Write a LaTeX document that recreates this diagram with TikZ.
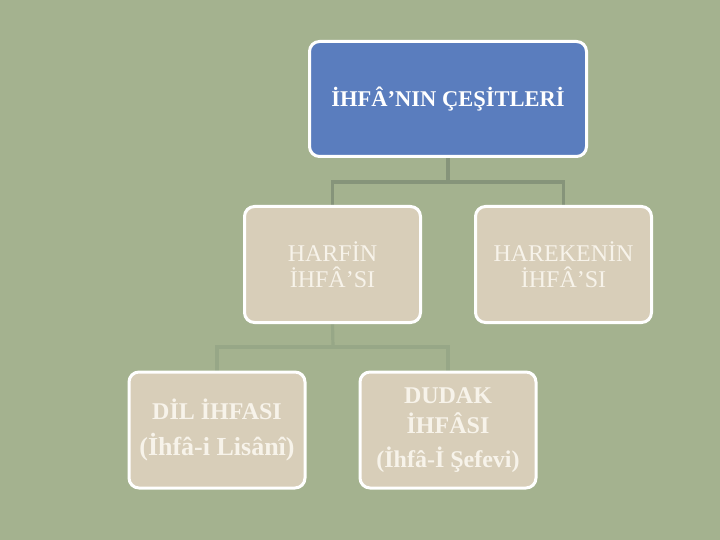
\documentclass[tikz,border=0pt]{standalone}
\usepackage{fontspec}
\setmainfont{Liberation Serif}
\definecolor{bgc}{HTML}{A4B28F}
\definecolor{bluec}{HTML}{5A7DBE}
\definecolor{beigec}{HTML}{D8CEB9}
\definecolor{linea}{HTML}{86947A}
\definecolor{lineb}{HTML}{97A787}
\definecolor{txtc}{HTML}{F7F3EA}
\pgfdeclarelayer{back}
\pgfdeclarelayer{wires}
\pgfsetlayers{back,wires,main}
\tikzset{
  topbox/.style={draw=white, line width=3pt, rounded corners=10pt, fill=bluec, minimum width=277pt, minimum height=115pt, align=center, text=white, font=\bfseries\fontsize{22.5}{26}\selectfont},
  childbox/.style={draw=white, line width=3pt, rounded corners=10pt, fill=beigec, minimum width=176pt, minimum height=116pt, align=center, text=txtc, font=\fontsize{24}{26}\selectfont},
  leafbox/.style={childbox, font=\bfseries\fontsize{24}{36}\selectfont},
  conna/.style={draw=linea, line width=3.2pt},
  connb/.style={draw=lineb, line width=3.2pt}
}
\begin{document}
\begin{tikzpicture}[x=1pt,y=-1pt]
\begin{pgfonlayer}{back}
\fill[bgc] (0,0) rectangle (720,540);
\end{pgfonlayer}
\useasboundingbox (0,0) rectangle (720,540);
\coordinate (j1) at (449,182);
\coordinate (j2) at (333,347);
\node[topbox] (top) at (448,99) {İHFÂ’NIN ÇEŞİTLERİ};
\node[childbox] (harf) at (332.5,264.5) {HARFİN\\İHFÂ’SI};
\node[childbox] (hare) at (563.5,264.5) {HAREKENİN\\İHFÂ’SI};
\node[leafbox] (dil) at (217,430) {DİL İHFASI\\{\fontsize{26}{36}\selectfont(İhfâ-i Lisânî)}};
\node[leafbox, font=\bfseries\fontsize{24}{30}\selectfont] (dud) at (448,430) {DUDAK\\İHFÂSI\\[4pt](İhfâ-İ Şefevi)};
\begin{pgfonlayer}{wires}
\draw[conna] (top.south) -- (top.south |- j1);
\draw[conna] (harf.north) |- (j1) -| (hare.north);
\draw[connb] (harf.south) -- (j2);
\draw[connb] (dil.north) |- (j2) -| (dud.north);
\end{pgfonlayer}
\end{tikzpicture}
\end{document}
